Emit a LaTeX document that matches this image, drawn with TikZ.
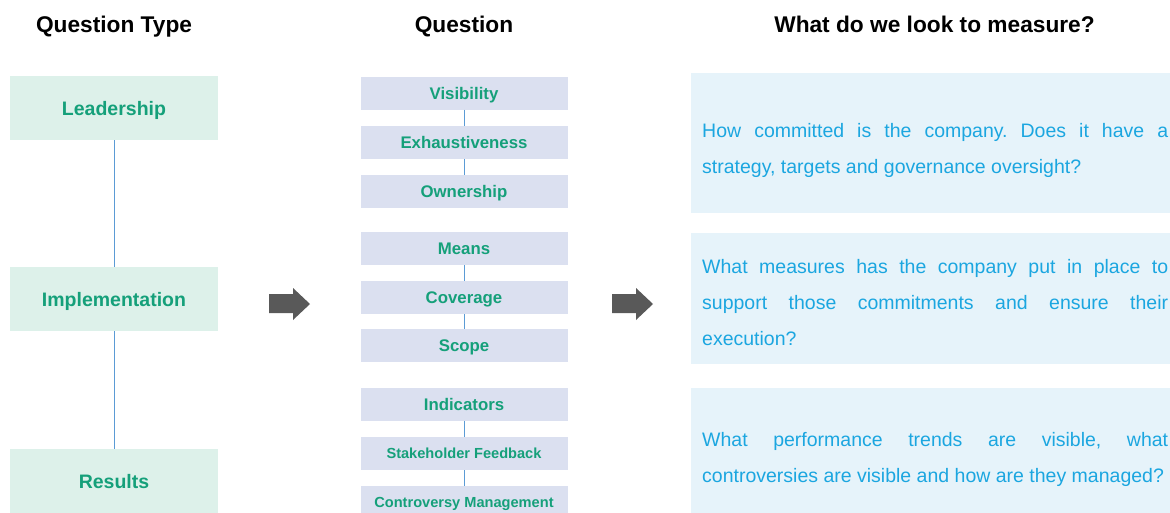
\documentclass[tikz,border=0pt]{standalone}
\usepackage{fontspec}
\setmainfont{Liberation Sans}
\usetikzlibrary{positioning}
\definecolor{typecol}{HTML}{DDF1EA}
\definecolor{greentext}{HTML}{15A07A}
\definecolor{questcol}{HTML}{DBE0F0}
\definecolor{measurecol}{HTML}{E6F3FA}
\definecolor{bluetext}{HTML}{1BA6E0}
\definecolor{linkcol}{HTML}{5B9BD5}
\definecolor{arrowcol}{HTML}{595959}
\frenchspacing

\begin{document}
\begin{tikzpicture}[x=1pt, y=-1pt,
  header/.style={font=\bfseries\fontsize{22.7}{26}\selectfont, text=black,
    text height=16.2pt, text depth=0pt, inner sep=0pt},
  qtype/.style={fill=typecol, minimum width=208pt, minimum height=64pt, inner sep=0pt,
    text height=14pt, text depth=0pt,
    font=\bfseries\fontsize{19.5}{22}\selectfont, text=greentext},
  qbox/.style={fill=questcol, minimum width=207pt, minimum height=33pt, inner sep=0pt,
    text height=12pt, text depth=0pt,
    font=\bfseries\fontsize{16.8}{19}\selectfont, text=greentext},
  small/.style={text height=10.5pt, font=\bfseries\fontsize{14.6}{17}\selectfont},
  measure/.style={fill=measurecol, minimum width=489pt, anchor=north west, inner sep=0pt},
  answer/.style={anchor=west, inner sep=0pt, text width=466pt, align=justify,
    font=\fontsize{19.5}{36}\selectfont, text=bluetext},
  link/.style={linkcol, line width=0.8pt}
]
  \clip (0,0) rectangle (1170,512);
  \fill[white] (0,0) rectangle (1170,512);

  \node[header] (h1) at (114, 24.5) {Question Type};
  \node[header] (h2) at (464, 24.5) {Question};
  \node[header] (h3) at (934.5, 24.5) {What do we look to measure?};

  \node[qtype] (lead) at (114, 108) {Leadership};
  \node[qtype] (impl) at (114, 299) {Implementation};
  \node[qtype] (res) at (114, 481) {Results};
  \draw[link] (lead) -- (impl);
  \draw[link] (impl) -- (res);

  \node[qbox] (vis) at (464, 93) {Visibility};
  \node[qbox] (exh) at (464, 142.5) {Exhaustiveness};
  \node[qbox] (own) at (464, 191.5) {Ownership};
  \node[qbox] (mea) at (464, 248.5) {Means};
  \node[qbox] (cov) at (464, 297.5) {Coverage};
  \node[qbox] (sco) at (464, 345.5) {Scope};
  \node[qbox] (ind) at (464, 404) {Indicators};
  \node[qbox, small] (stk) at (464, 453.5) {Stakeholder Feedback};
  \node[qbox, small] (ctl) at (464, 502.5) {Controversy Management};
  \draw[link] (vis) -- (exh);
  \draw[link] (exh) -- (own);
  \draw[link] (mea) -- (cov);
  \draw[link] (cov) -- (sco);
  \draw[link] (ind) -- (stk);
  \draw[link] (stk) -- (ctl);

  \foreach \ax in {269, 612}
    \fill[arrowcol, xshift=\ax] (0,294) -- (24,294) -- (24,288) -- (41,304)
      -- (24,320) -- (24,313) -- (0,313) -- cycle;

  \node[measure, minimum height=140pt] (m1) at (691, 73) {};
  \node[measure, minimum height=131pt] (m2) at (691, 233) {};
  \node[measure, minimum height=132pt] (m3) at (691, 388) {};
  \node[answer] (a1) at (702, 150) {How committed is the company. Does it have a\linebreak
    strategy, targets and governance oversight?};
  \node[answer] (a2) at (702, 303) {What measures has the company put in place to\linebreak
    support those commitments and ensure their\linebreak execution?};
  \node[answer] (a3) at (702, 459) {What performance trends are visible, what\linebreak
    controversies are visible and how are they managed?};
\end{tikzpicture}
\end{document}
